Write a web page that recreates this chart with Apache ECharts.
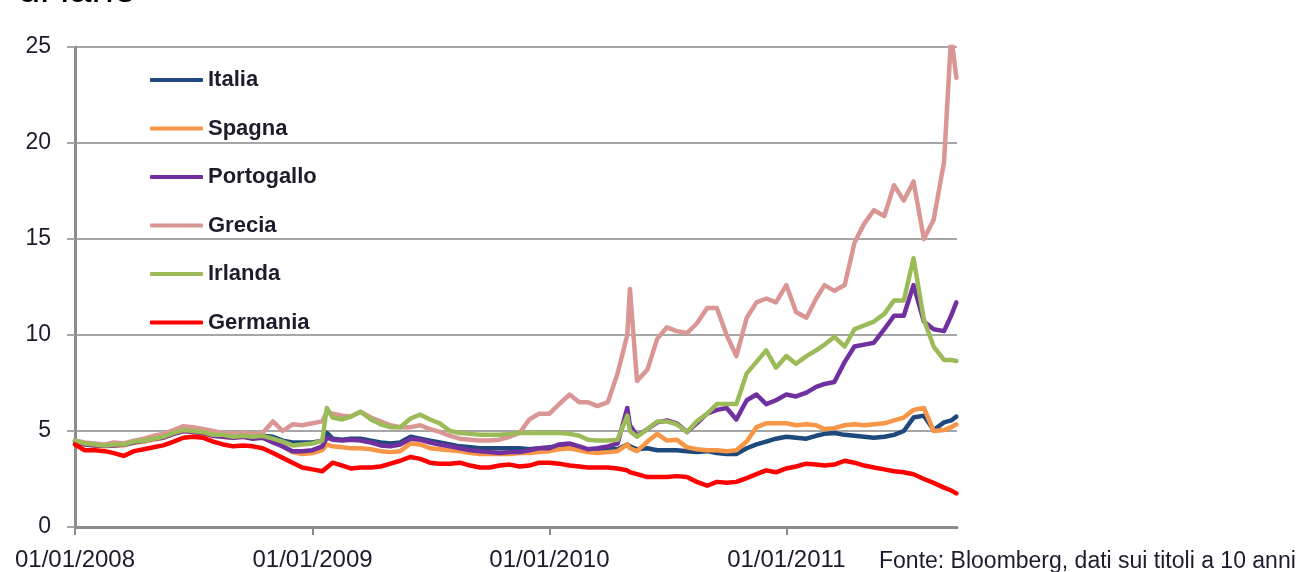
<!DOCTYPE html>
<html>
<head>
<meta charset="utf-8">
<script src="https://cdn.jsdelivr.net/npm/echarts@6/dist/echarts.min.js"></script>
<style>
  html, body { margin: 0; padding: 0; background: #fff; }
  #chart { width: 1299px; height: 572px; }
</style>
</head>
<body>
<div id="chart"></div>
<script>
// date di riferimento (ogni mezzo mese + qualche picco)
const dates = [
  "2008-01-01","2008-01-16","2008-02-01","2008-02-16","2008-03-01","2008-03-16","2008-04-01","2008-04-16",
  "2008-05-01","2008-05-16","2008-06-01","2008-06-16","2008-07-01","2008-07-16","2008-08-01","2008-08-16",
  "2008-09-01","2008-09-16","2008-10-01","2008-10-16","2008-11-01","2008-11-16","2008-12-01","2008-12-16",
  "2009-01-01","2009-01-16","2009-01-23","2009-02-01","2009-02-16","2009-03-01","2009-03-16","2009-04-01",
  "2009-04-16","2009-05-01","2009-05-16","2009-06-01","2009-06-16","2009-07-01","2009-07-16","2009-08-01",
  "2009-08-16","2009-09-01","2009-09-16","2009-10-01","2009-10-16","2009-11-01","2009-11-16","2009-12-01",
  "2009-12-16",
  "2010-01-01","2010-01-16","2010-02-01","2010-02-16","2010-03-01","2010-03-16","2010-04-01","2010-04-16",
  "2010-05-01","2010-05-05","2010-05-16","2010-06-01","2010-06-16","2010-07-01","2010-07-16","2010-08-01",
  "2010-08-16","2010-09-01","2010-09-16","2010-10-01","2010-10-16","2010-11-01","2010-11-16","2010-12-01",
  "2010-12-16",
  "2011-01-01","2011-01-16","2011-02-01","2011-02-16","2011-03-01","2011-03-16","2011-04-01","2011-04-16",
  "2011-05-01","2011-05-16","2011-06-01","2011-06-16","2011-07-01","2011-07-16","2011-08-01","2011-08-16",
  "2011-09-01","2011-09-12","2011-09-20"
];

const italia = [
  4.5, 4.35, 4.3, 4.25, 4.3, 4.3, 4.45, 4.5, 4.6, 4.7, 4.9, 5.05, 5.0, 4.9, 4.8, 4.75, 4.7, 4.75, 4.7, 4.75, 4.7, 4.5, 4.4, 4.4,
  4.4, 4.5, 4.9, 4.6, 4.55, 4.6, 4.6, 4.5, 4.4, 4.35, 4.4, 4.7, 4.6, 4.5, 4.4, 4.3, 4.2, 4.15, 4.1, 4.1, 4.1, 4.1, 4.1, 4.05, 4.1,
  4.15, 4.2, 4.1, 4.05, 4.0, 4.0, 4.05, 4.05, 4.3, 4.2, 4.05, 4.1, 4.0, 4.0, 4.0, 3.95, 3.9, 3.95, 3.85, 3.8, 3.8, 4.1, 4.3, 4.45, 4.6,
  4.7, 4.65, 4.6, 4.75, 4.85, 4.9, 4.8, 4.75, 4.7, 4.65, 4.7, 4.8, 5.0, 5.7, 5.8, 5.05, 5.45, 5.55, 5.75
];
const spagna = [
  4.45, 4.3, 4.25, 4.2, 4.25, 4.25, 4.4, 4.45, 4.55, 4.65, 4.85, 5.0, 4.95, 4.85, 4.75, 4.7, 4.65, 4.7, 4.65, 4.65, 4.5, 4.2, 3.9, 3.8,
  3.85, 4.0, 4.3, 4.2, 4.15, 4.1, 4.1, 4.05, 3.95, 3.9, 3.95, 4.35, 4.3, 4.1, 4.05, 4.0, 3.95, 3.85, 3.8, 3.8, 3.8, 3.8, 3.85, 3.85, 3.9,
  3.95, 4.05, 4.1, 4.0, 3.9, 3.85, 3.9, 3.95, 4.3, 4.1, 3.95, 4.45, 4.85, 4.5, 4.55, 4.15, 4.05, 4.0, 4.0, 3.95, 4.0, 4.45, 5.2, 5.4, 5.4,
  5.4, 5.3, 5.35, 5.3, 5.1, 5.15, 5.3, 5.35, 5.3, 5.35, 5.4, 5.55, 5.7, 6.1, 6.2, 5.0, 5.05, 5.2, 5.35
];
const portogallo = [
  4.45, 4.3, 4.25, 4.25, 4.25, 4.3, 4.4, 4.5, 4.6, 4.65, 4.85, 5.0, 4.95, 4.9, 4.75, 4.7, 4.65, 4.7, 4.6, 4.65, 4.4, 4.2, 3.95, 3.95,
  4.0, 4.2, 4.65, 4.55, 4.5, 4.55, 4.5, 4.4, 4.25, 4.2, 4.3, 4.6, 4.55, 4.4, 4.3, 4.2, 4.1, 4.0, 3.95, 3.9, 3.85, 3.9, 3.9, 4.0, 4.1,
  4.1, 4.3, 4.35, 4.2, 4.05, 4.1, 4.2, 4.35, 6.2, 5.3, 4.75, 5.1, 5.45, 5.55, 5.4, 4.95, 5.4, 5.9, 6.1, 6.2, 5.6, 6.6, 6.9, 6.4, 6.6,
  6.9, 6.8, 7.0, 7.3, 7.45, 7.55, 8.6, 9.4, 9.5, 9.6, 10.3, 11.0, 11.0, 12.6, 10.7, 10.3, 10.2, 11.0, 11.7
];
const grecia = [
  4.5, 4.4, 4.35, 4.3, 4.4, 4.35, 4.5, 4.6, 4.75, 4.85, 5.05, 5.25, 5.2, 5.1, 5.0, 4.9, 4.85, 4.9, 4.85, 4.9, 5.5, 5.0, 5.35, 5.3,
  5.4, 5.5, 6.0, 5.9, 5.8, 5.75, 6.0, 5.7, 5.5, 5.3, 5.2, 5.2, 5.3, 5.1, 4.95, 4.75, 4.6, 4.55, 4.5, 4.5, 4.55, 4.7, 4.9, 5.6, 5.9,
  5.9, 6.4, 6.9, 6.5, 6.5, 6.3, 6.5, 8.0, 10.0, 12.4, 7.6, 8.2, 9.8, 10.4, 10.2, 10.1, 10.6, 11.4, 11.4, 10.0, 8.9, 10.9, 11.7, 11.9, 11.7,
  12.6, 11.2, 10.9, 11.9, 12.6, 12.3, 12.6, 14.8, 15.8, 16.5, 16.2, 17.8, 17.0, 18.0, 15.0, 16.0, 19.0, 25.6, 23.4
];
const irlanda = [
  4.5, 4.35, 4.3, 4.25, 4.3, 4.3, 4.45, 4.5, 4.6, 4.7, 4.9, 5.05, 5.0, 4.95, 4.8, 4.8, 4.7, 4.75, 4.7, 4.75, 4.6, 4.45, 4.25, 4.3,
  4.35, 4.5, 6.2, 5.7, 5.6, 5.75, 6.0, 5.6, 5.35, 5.2, 5.2, 5.65, 5.85, 5.6, 5.4, 5.0, 4.9, 4.85, 4.8, 4.8, 4.8, 4.85, 4.9, 4.9, 4.9,
  4.9, 4.9, 4.85, 4.75, 4.55, 4.5, 4.5, 4.55, 5.8, 5.0, 4.7, 5.1, 5.5, 5.5, 5.35, 4.95, 5.5, 5.9, 6.4, 6.4, 6.4, 8.0, 8.6, 9.2, 8.3,
  8.9, 8.5, 8.9, 9.2, 9.5, 9.9, 9.4, 10.3, 10.5, 10.7, 11.1, 11.8, 11.8, 14.0, 10.8, 9.4, 8.7, 8.7, 8.65
];
const germania = [
  4.3, 4.0, 4.0, 3.95, 3.85, 3.7, 3.95, 4.05, 4.15, 4.25, 4.45, 4.65, 4.7, 4.65, 4.45, 4.3, 4.2, 4.25, 4.2, 4.1, 3.85, 3.6, 3.35, 3.1,
  3.0, 2.9, 3.1, 3.35, 3.2, 3.05, 3.1, 3.1, 3.15, 3.3, 3.45, 3.65, 3.55, 3.35, 3.3, 3.3, 3.35, 3.2, 3.1, 3.1, 3.2, 3.25, 3.15, 3.2, 3.35,
  3.35, 3.3, 3.2, 3.15, 3.1, 3.1, 3.1, 3.05, 2.95, 2.85, 2.75, 2.6, 2.6, 2.6, 2.65, 2.6, 2.35, 2.15, 2.35, 2.3, 2.35, 2.55, 2.75, 2.95, 2.85,
  3.05, 3.15, 3.3, 3.25, 3.2, 3.25, 3.45, 3.35, 3.2, 3.1, 3.0, 2.9, 2.85, 2.75, 2.5, 2.3, 2.05, 1.9, 1.75
];

const yearTicks = ["2008-01-01", "2009-01-01", "2010-01-01", "2011-01-01"];
const xMin = "2008-01-01";
const xMax = "2011-09-21";

const names = ["Italia", "Spagna", "Portogallo", "Grecia", "Irlanda", "Germania"];
const values = [italia, spagna, portogallo, grecia, irlanda, germania];
const colors = ["#1F497D", "#F79646", "#7030A0", "#D99694", "#9BBB59", "#FF0000"];

function ts(s) {
  var p = s.split("-");
  return new Date(+p[0], +p[1] - 1, +p[2]).getTime();
}
function pad(n) {
  return n < 10 ? "0" + n : "" + n;
}

var chart = echarts.init(document.getElementById("chart"), null, { renderer: "canvas" });

var series = names.map(function (name, k) {
  return {
    name: name,
    type: "line",
    showSymbol: false,
    symbol: "none",
    data: dates.map(function (d, i) { return [ts(d), values[k][i]]; }),
    lineStyle: { color: colors[k], width: 4.5, join: "round", cap: "round" },
    itemStyle: { color: colors[k] },
  };
});

var axisColor = "#8c8c8c";
var textColor = "#1c1c2c";

var option = {
  animation: false,
  backgroundColor: "#fff",
  grid: { left: 75, right: 342, top: 47, bottom: 45 },
  legend: {
    data: names,
    orient: "vertical",
    left: 150,
    top: 69,
    padding: 0,
    itemWidth: 53,
    itemHeight: 4,
    itemGap: 26.5,
    icon: "roundRect",
    textStyle: {
      fontFamily: "Liberation Sans",
      fontWeight: "bold",
      fontSize: 22,
      lineHeight: 22,
      color: textColor,
    },
  },
  xAxis: {
    type: "value",
    min: ts(xMin),
    max: ts(xMax),
    axisLine: { lineStyle: { color: axisColor, width: 3 } },
    axisTick: {
      show: true,
      length: 8,
      customValues: yearTicks.map(ts),
      lineStyle: { color: axisColor, width: 2 },
    },
    axisLabel: {
      customValues: yearTicks.map(ts),
      fontFamily: "Liberation Sans",
      fontSize: 24,
      color: textColor,
      margin: 21,
      formatter: function (v) {
        var d = new Date(v);
        return pad(d.getDate()) + "/" + pad(d.getMonth() + 1) + "/" + d.getFullYear();
      },
    },
    splitLine: { show: false },
  },
  yAxis: {
    type: "value",
    min: 0,
    max: 25,
    interval: 5,
    axisLine: { show: true, lineStyle: { color: axisColor, width: 3 } },
    axisTick: { show: true, length: 8, lineStyle: { color: "#a6a6a6", width: 2 } },
    axisLabel: {
      fontFamily: "Liberation Sans",
      fontSize: 23,
      color: textColor,
      margin: 24,
    },
    splitLine: { show: true, lineStyle: { color: "#a6a6a6", width: 2 } },
  },
  graphic: [
    {
      // titolo tagliato in alto
      type: "text",
      x: 18,
      y: 11,
      style: {
        text: "di lane",
        font: "40px 'Liberation Sans'",
        fill: "#000",
        verticalAlign: "bottom",
      },
    },
    {
      type: "text",
      x: 879,
      y: 550,
      style: {
        text: "Fonte: Bloomberg, dati sui titoli a 10 anni",
        font: "23px 'Liberation Sans'",
        fill: textColor,
      },
    },
  ],
  series: series,
};

chart.setOption(option);
</script>
</body>
</html>
